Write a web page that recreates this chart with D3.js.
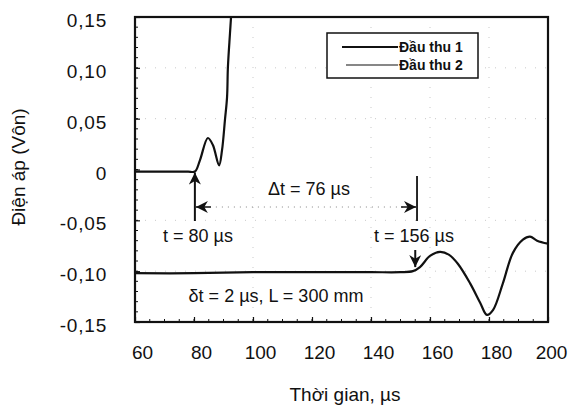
<!DOCTYPE html>
<html>
<head>
<meta charset="utf-8">
<script src="https://cdn.jsdelivr.net/npm/d3@7"></script>
<style>
  body { margin: 0; background: #fff; }
  text { font-family: "Liberation Sans", Arial, sans-serif; fill: #111; }
</style>
</head>
<body>
<div id="chart"></div>
<script>
"use strict";

// sensor 1 (Đầu thu 1)
var time1 = [60, 65, 70, 75, 78, 80.3, 82, 84.7, 86.4, 88.5, 89.5, 90.5, 91.2, 91.5, 92.2, 92.6];
var volt1 = [-0.002, -0.002, -0.002, -0.002, -0.002, -0.002, 0.009, 0.031, 0.024, 0.004, 0.019, 0.049, 0.071, 0.101, 0.134, 0.152];

// sensor 2 (Đầu thu 2)
var time2 = [60, 80, 100, 120, 140, 150, 154.2, 156.6, 160, 163.4, 166.5, 169.5, 173.6, 177, 179.3, 181.4, 184.7, 188.1, 191.5, 193.9, 196.3, 200];
var volt2 = [-0.102, -0.102, -0.101, -0.101, -0.101, -0.101, -0.1, -0.096, -0.085, -0.081, -0.084, -0.093, -0.112, -0.131, -0.143, -0.138, -0.112, -0.082, -0.069, -0.066, -0.07, -0.073];

var xTicks = [60, 80, 100, 120, 140, 160, 180, 200];
var yTicks = [0.15, 0.10, 0.05, 0, -0.05, -0.10, -0.15];
var legendLabels = ["Đầu thu 1", "Đầu thu 2"];

var width = 571,
  height = 411;
var margin = { top: 17, right: 23, bottom: 89, left: 135 };

var svg = d3
  .select("#chart")
  .append("svg")
  .attr("width", width)
  .attr("height", height);

var x = d3.scaleLinear().domain([60, 200]).range([margin.left, width - margin.right]);
var y = d3.scaleLinear().domain([-0.15, 0.15]).range([height - margin.bottom, margin.top]);

svg.append("clipPath").attr("id", "clip")
  .append("rect")
  .attr("x", x(60)).attr("y", y(0.15))
  .attr("width", x(200) - x(60)).attr("height", y(-0.15) - y(0.15));

// faint dotted grid
svg.append("g")
  .selectAll("line")
  .data([100, 140, 160, 180])
  .enter().append("line")
  .attr("x1", d => x(d)).attr("x2", d => x(d))
  .attr("y1", y(0.15)).attr("y2", y(-0.15))
  .attr("stroke", "#bbb").attr("stroke-width", 0.8).attr("stroke-dasharray", "1,9");
svg.append("g")
  .selectAll("line")
  .data([0.10, 0.05, -0.05, -0.10])
  .enter().append("line")
  .attr("x1", x(60)).attr("x2", x(200))
  .attr("y1", d => y(d)).attr("y2", d => y(d))
  .attr("stroke", "#bbb").attr("stroke-width", 0.8).attr("stroke-dasharray", "1,9");

// axes with inner ticks
var fmtY = d => (d === 0 ? "0" : d3.format(".2f")(d).replace(".", ",").replace("\u2212", "-"));

var xAxis = svg.append("g")
  .attr("transform", "translate(0," + y(-0.15) + ")")
  .call(d3.axisBottom(x).tickValues(xTicks).tickSizeInner(-5).tickSizeOuter(0).tickPadding(24));
xAxis.selectAll("text").attr("font-size", 19).attr("dx", d => (d === 200 ? 3 : 7));

var yAxis = svg.append("g")
  .attr("transform", "translate(" + x(60) + ",0)")
  .call(d3.axisLeft(y).tickValues(yTicks).tickFormat(fmtY).tickSizeInner(-5).tickSizeOuter(0).tickPadding(28));
yAxis.selectAll("text").attr("font-size", 19).attr("letter-spacing", 0.8).attr("dy", "0.5em");

[xAxis, yAxis].forEach(function(g) {
  g.select(".domain").remove();
  g.selectAll(".tick line").attr("stroke", "#111").attr("stroke-width", 1.2);
});

// minor ticks on left and bottom
svg.append("g")
  .selectAll("line")
  .data(d3.range(-0.14, 0.15, 0.01))
  .enter().append("line")
  .attr("x1", x(60)).attr("x2", x(60) + 3)
  .attr("y1", d => y(d)).attr("y2", d => y(d))
  .attr("stroke", "#111").attr("stroke-width", 1);
svg.append("g")
  .selectAll("line")
  .data(d3.range(65, 200, 5))
  .enter().append("line")
  .attr("x1", d => x(d)).attr("x2", d => x(d))
  .attr("y1", y(-0.15)).attr("y2", y(-0.15) - 3)
  .attr("stroke", "#111").attr("stroke-width", 1);

// frame
svg.append("rect")
  .attr("x", x(60)).attr("y", y(0.15))
  .attr("width", x(200) - x(60)).attr("height", y(-0.15) - y(0.15))
  .attr("fill", "none").attr("stroke", "#111").attr("stroke-width", 2.2);

// traces
var line = d3.line().x(d => x(d[0])).y(d => y(d[1])).curve(d3.curveCatmullRom.alpha(0.5));
var series = [d3.zip(time1, volt1), d3.zip(time2, volt2)];
svg.append("g").attr("clip-path", "url(#clip)")
  .selectAll("path")
  .data(series)
  .enter().append("path")
  .attr("d", line)
  .attr("fill", "none")
  .attr("stroke", "#111")
  .attr("stroke-width", 2.2)
  .attr("stroke-linejoin", "round");

// legend
var lg = svg.append("g");
lg.append("rect")
  .attr("x", 327).attr("y", 33).attr("width", 151).attr("height", 45)
  .attr("fill", "#fff").attr("stroke", "#111").attr("stroke-width", 1.5);
legendLabels.forEach(function(lbl, i) {
  var ly = 47 + i * 18;
  lg.append("line")
    .attr("x1", i === 0 ? 342 : 346).attr("x2", 398)
    .attr("y1", ly).attr("y2", ly)
    .attr("stroke", "#111").attr("stroke-width", i === 0 ? 1.8 : 1.1);
  lg.append("text")
    .attr("x", 399).attr("y", ly + 5)
    .attr("font-size", 14).attr("font-weight", "bold")
    .text(lbl);
});

// annotations
var defs = svg.append("defs");
defs.append("marker")
  .attr("id", "ah").attr("viewBox", "0 0 10 10").attr("refX", 10).attr("refY", 5)
  .attr("markerWidth", 12).attr("markerHeight", 12).attr("markerUnits", "userSpaceOnUse")
  .attr("orient", "auto")
  .append("path").attr("d", "M0,0 L10,5 L0,10 L3,5 Z").attr("fill", "#111");

// up arrow at t = 80
svg.append("line")
  .attr("x1", x(80.3)).attr("x2", x(80.3))
  .attr("y1", 221).attr("y2", y(-0.002) + 1)
  .attr("stroke", "#111").attr("stroke-width", 2).attr("marker-end", "url(#ah)");

// down arrow at t = 156
svg.append("line")
  .attr("x1", x(155)).attr("x2", x(155))
  .attr("y1", 250).attr("y2", y(-0.096))
  .attr("stroke", "#111").attr("stroke-width", 2).attr("marker-end", "url(#ah)");

// delta-t dimension line
var dimY = 207;
svg.append("line")
  .attr("x1", x(80.3) + 3).attr("x2", x(155.6) - 3)
  .attr("y1", dimY).attr("y2", dimY)
  .attr("stroke", "#666").attr("stroke-width", 0.8).attr("stroke-dasharray", "1,5");
svg.append("line")
  .attr("x1", x(80.3) + 16).attr("x2", x(80.3) + 1)
  .attr("y1", dimY).attr("y2", dimY)
  .attr("stroke", "#111").attr("stroke-width", 1.5).attr("marker-end", "url(#ah)");
svg.append("line")
  .attr("x1", x(155.6) - 16).attr("x2", x(155.6) - 1)
  .attr("y1", dimY).attr("y2", dimY)
  .attr("stroke", "#111").attr("stroke-width", 1.5).attr("marker-end", "url(#ah)");
svg.append("line")
  .attr("x1", x(155.6)).attr("x2", x(155.6))
  .attr("y1", 176).attr("y2", 221)
  .attr("stroke", "#111").attr("stroke-width", 1.8);

var notes = [
  { t: "Δt = 76 µs", x: 309, y: 195 },
  { t: "t = 80 µs", x: 198, y: 242 },
  { t: "t = 156 µs", x: 414, y: 242 },
  { t: "δt =  2 µs, L = 300 mm", x: 276, y: 302 }
];
svg.append("g")
  .selectAll("text")
  .data(notes)
  .enter().append("text")
  .attr("x", d => d.x).attr("y", d => d.y)
  .attr("text-anchor", "middle")
  .attr("font-size", 18)
  .text(d => d.t);

// axis titles
svg.append("text")
  .attr("x", 345).attr("y", 401)
  .attr("text-anchor", "middle")
  .attr("font-size", 19)
  .text("Thời gian, µs");

svg.append("text")
  .attr("transform", "translate(25,167) rotate(-90)")
  .attr("text-anchor", "middle")
  .attr("font-size", 19)
  .text("Điện áp (Vôn)");
</script>
</body>
</html>
